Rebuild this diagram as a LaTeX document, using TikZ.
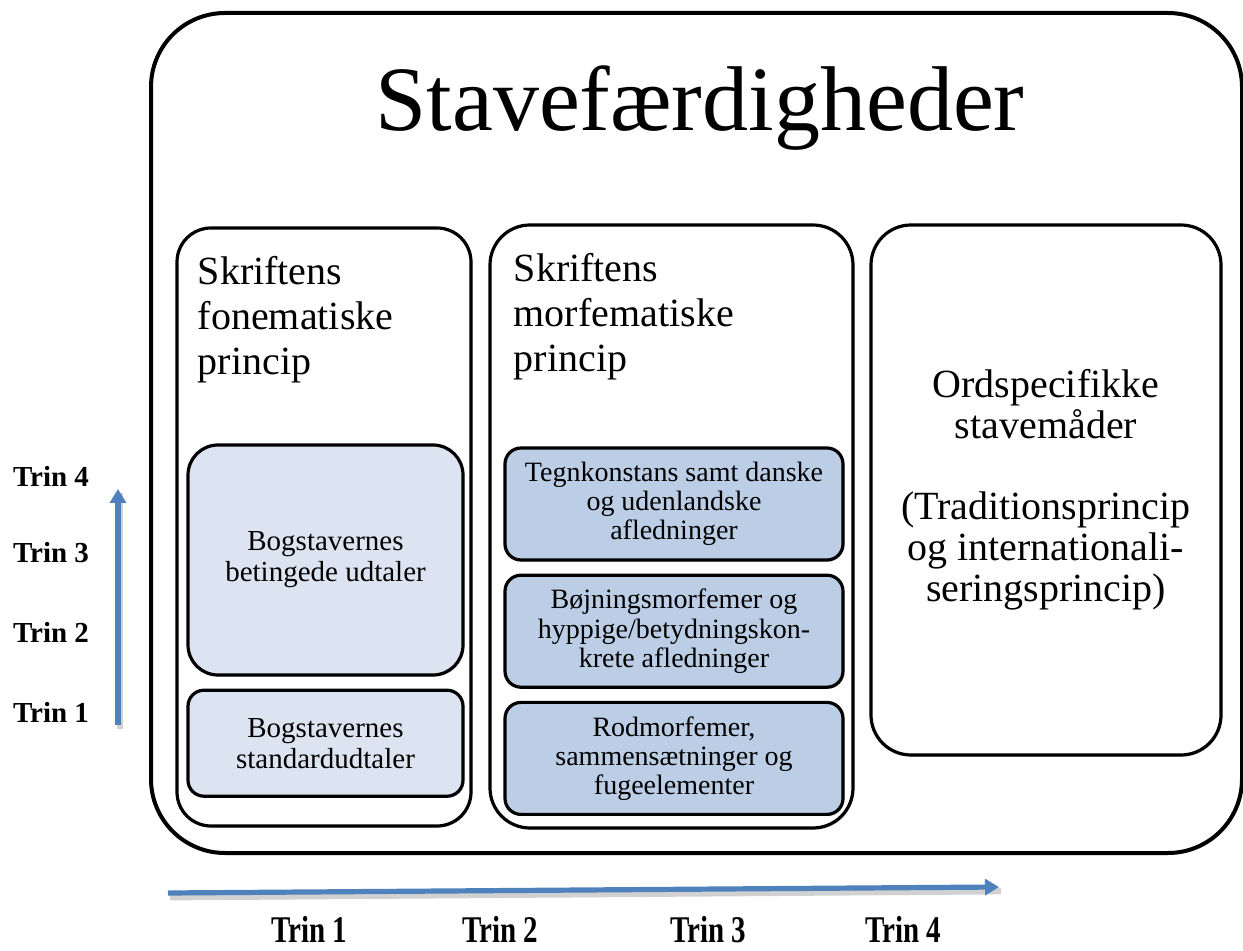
\documentclass[tikz,border=0pt]{standalone}
\usepackage{fontspec}
\setmainfont{Liberation Serif}
\usetikzlibrary{positioning}
\usetikzlibrary{arrows.meta}
\usetikzlibrary{shadows}

\definecolor{trinblue}{HTML}{4F81BD}
\definecolor{fonefill}{HTML}{DDE4F1}
\definecolor{morffill}{HTML}{BBCEE5}

\begin{document}
\begin{tikzpicture}[x=0.5pt,y=-0.5pt,
        frame/.style={draw,line width=1.6pt,inner sep=0pt,
            drop shadow={opacity=0.25,shadow xshift=0.7pt,shadow yshift=-0.9pt}},
        column/.style={frame,rounded corners=17pt,fill=white},
        fonebox/.style={frame,fill=fonefill,minimum width=137.5pt,align=center,
            font=\fontsize{14.5}{15.5}\selectfont},
        morfbox/.style={frame,fill=morffill,rounded corners=8pt,minimum width=169pt,
            minimum height=56pt,align=center,node distance=6pt,
            font=\fontsize{14}{14.6}\selectfont},
        heading/.style={anchor=north west,align=left,inner sep=0pt,
            font=\fontsize{20}{22.5}\selectfont},
        trin/.style={font=\fontsize{14.5}{16}\selectfont\bfseries,inner sep=0pt},
        trinarrow/.style={trinblue,line width=2.6pt,-{Triangle[width=8pt,length=7pt]},
            preaction={draw=black!18,line width=3.4pt,-,
                transform canvas={xshift=1pt,yshift=-2pt}}}]
   \useasboundingbox (0,0) rectangle (1243,951);
   % outer frame and title
   \node[frame,fill=white,line width=2pt,rounded corners=37pt,minimum width=545.5pt,
         minimum height=420pt] (outer) at (696.5,433) {};
   \node[anchor=base,font=\fontsize{46}{50}\selectfont] (title) at (700,131) {Stavefærdigheder};
   % the three columns
   \node[column,minimum width=147pt,minimum height=299pt] (fone) at (324,527) {};
   \node[column,rounded corners=20pt,minimum width=181.5pt,minimum height=301.5pt] (morf) at (671.5,526.5) {};
   \node[column,rounded corners=20pt,minimum width=175pt,minimum height=265pt,align=center,
         font=\fontsize{20}{20.5}\selectfont] (ord) at (1046,490)
         {Ordspecifikke\\stavemåder\\[20pt](Traditionsprincip\\og internationali-\\seringsprincip)};
   \node[heading,below right=15pt and 11pt of fone.north west] (fonehead) {Skriftens\\fonematiske\\princip};
   \node[heading,below right=15pt and 12.5pt of morf.north west] (morfhead) {Skriftens\\morfematiske\\princip};
   % fonematic boxes
   \node[fonebox,rounded corners=15pt,minimum height=115pt] (betinget) at (325.5,560)
         {Bogstavernes\\betingede udtaler};
   \node[fonebox,rounded corners=8pt,minimum height=53pt,below=6pt of betinget] (standard)
         {Bogstavernes\\standardudtaler};
   % morphematic boxes
   \node[morfbox] (tegn) at (674,504) {Tegnkonstans samt danske\\og udenlandske\\afledninger};
   \node[morfbox,below=of tegn] (boejning) {Bøjningsmorfemer og\\hyppige/betydningskon-\\krete afledninger};
   \node[morfbox,below=of boejning] (rod) {Rodmorfemer,\\sammensætninger og\\fugeelementer};
   % the steps
   \foreach \n/\y in {1/712,2/632,3/553,4/476}
      \node[trin] (left\n) at (51,\y) {Trin \n};
   \foreach \n/\x in {1/309,2/500,3/708,4/903}
      \node[trin,anchor=base] (bottom\n) at (\x,942) {\scalebox{1}[1.3]{Trin \n}};
   \coordinate (upstart) at (118,725);
   \coordinate (upend) at (118,489);
   \coordinate (rightstart) at (168,893);
   \coordinate (rightend) at (999,887);
   \draw[trinarrow] (upstart) -- (upend);
   \draw[trinarrow] (rightstart) -- (rightend);
\end{tikzpicture}
\end{document}
